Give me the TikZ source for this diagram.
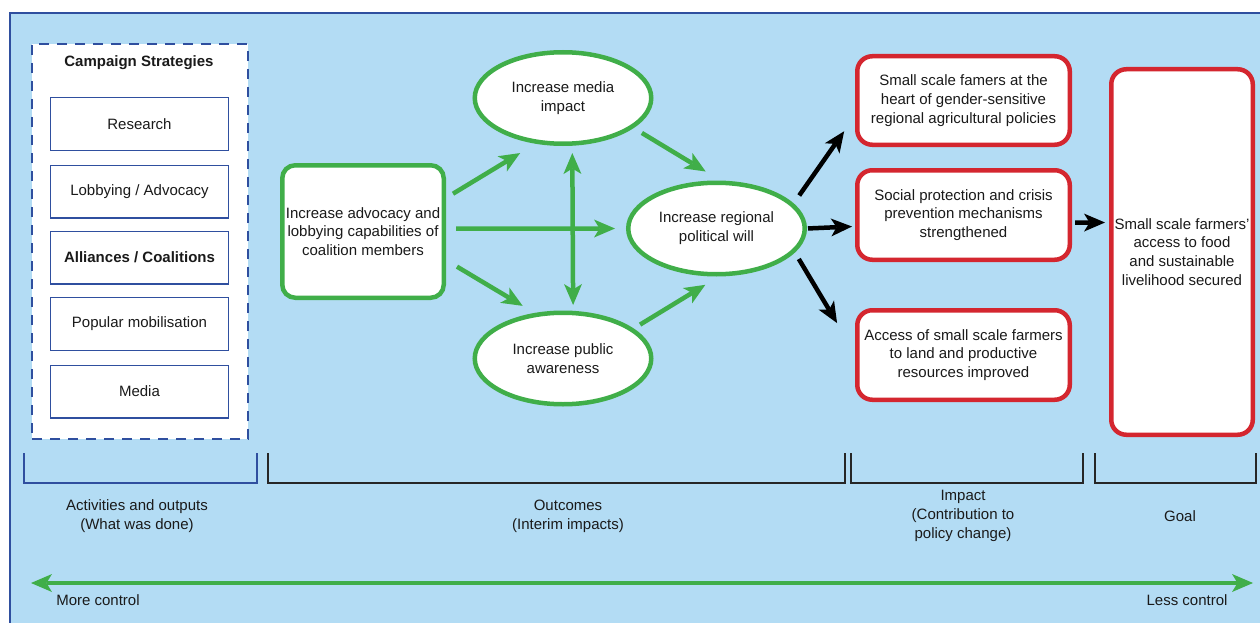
\documentclass[tikz,border=0pt]{standalone}
\usepackage{fontspec}
\setmainfont{Liberation Sans}
\usetikzlibrary{shapes.geometric,arrows.meta}
\definecolor{bgblue}{HTML}{B3DCF4}
\definecolor{frameblue}{HTML}{2F4F9F}
\definecolor{ggreen}{HTML}{40AE49}
\definecolor{rred}{HTML}{D4262F}
\definecolor{txt}{HTML}{1A1A1A}
\tikzset{
  stratbox/.style={draw=frameblue, line width=1.4pt, fill=white, minimum width=177.6pt, minimum height=52.6pt, inner sep=0pt, align=center},
  gbox/.style={draw=ggreen, line width=4.5pt, fill=white, rounded corners=13pt, minimum width=161.5pt, minimum height=132.5pt, inner sep=0pt, align=center},
  gell/.style={ellipse, draw=ggreen, line width=4.5pt, fill=white, minimum width=176.5pt, minimum height=91.5pt, inner sep=0pt, align=center},
  rbox/.style={draw=rred, line width=4.5pt, fill=white, rounded corners=15pt, minimum width=212.5pt, inner sep=0pt, align=center},
  ghead/.style={},
  garrow/.style={draw=ggreen, line width=4.5pt, -{Stealth[length=21pt,width=18pt,inset=5.5pt,line width=0pt]}},
  gdarrow/.style={draw=ggreen, line width=4.5pt, {Stealth[length=21pt,width=18pt,inset=5.5pt,line width=0pt]}-{Stealth[length=21pt,width=18pt,inset=5.5pt,line width=0pt]}},
  barrow/.style={draw=black, line width=4.5pt, -{Stealth[length=21pt,width=18pt,inset=5.5pt,line width=0pt]}},
  bracketline/.style={line width=1.2pt, draw=black!85},
  lbl/.style={align=center, inner sep=0pt}
}
\begin{document}
\begin{tikzpicture}[x=1pt,y=-1pt, font=\fontsize{15}{18.8}\selectfont, text=txt]
\useasboundingbox (0,0) rectangle (1260,623);
\fill[white] (0,0) rectangle (1260,623);
\begin{scope}
  \clip (0,0) rectangle (1260,623);
  \filldraw[fill=bgblue, draw=frameblue, line width=2.2pt] (10,13) rectangle (1280,650);
\end{scope}

% campaign strategies
\node[draw=frameblue, dash pattern=on 10pt off 8pt, line width=2.2pt, fill=white, minimum width=216pt, minimum height=395pt, inner sep=0pt] (stratframe) at (140,241.5) {};
\node[lbl, font=\fontsize{15}{18.8}\selectfont\bfseries] (strattitle) at (139,63) {Campaign Strategies};
\node[stratbox] (research) at (139.5,124) {Research};
\node[stratbox] (lobby) at (139.5,191.5) {Lobbying / Advocacy};
\node[stratbox, font=\fontsize{15}{18.8}\selectfont\bfseries] (alliance) at (139.5,257.5) {Alliances / Coalitions};
\node[stratbox] (popular) at (139.5,324) {Popular mobilisation};
\node[stratbox] (mediabox) at (139.5,391.5) {Media};

% outcomes
\node[gbox] (adv) at (363,231.5) {Increase advocacy and\\lobbying capabilities of\\coalition members};
\node[gell] (media) at (563,98) {Increase media\\impact};
\node[gell] (public) at (563,358.5) {Increase public\\awareness};
\node[gell] (will) at (716.5,228.5) {Increase regional\\political will};

% impacts
\node[rbox, minimum height=88.5pt] (imp1) at (963.5,100.5) {Small scale famers at the\\heart of gender-sensitive\\regional agricultural policies};
\node[rbox, minimum height=89.5pt] (imp2) at (963.5,215) {Social protection and crisis\\prevention mechanisms\\strengthened};
\node[rbox, minimum height=89.5pt] (imp3) at (963.5,355) {Access of small scale farmers\\to land and productive\\resources improved};
\node[rbox, minimum width=141.5pt, minimum height=365.5pt] (goal) at (1182,252) {Small scale farmers'\\access to food\\and sustainable\\livelihood secured};

% green connectors
\draw[garrow, shorten <=8.2pt, shorten >=18pt] (adv.22.4) -- (media.239);
\draw[garrow, shorten <=10pt, shorten >=11pt] (adv.2.4) -- (will.180);
\draw[garrow, shorten <=12.8pt, shorten >=13.8pt] (adv.-19.2) -- (public.122.7);
\draw[gdarrow, shorten <=7.3pt, shorten >=5.8pt] (media.281.8) -- (public.78.2);
\draw[garrow, shorten <=9.6pt, shorten >=17.5pt] (media.337) -- (will.85.9);
\draw[garrow, shorten <=7.5pt, shorten >=16pt] (public.23.8) -- (will.273.9);

% black connectors
\draw[barrow, shorten <=9.7pt, shorten >=18.9pt] (will.18.4) -- (imp1.188.4);
\draw[barrow, shorten <=1pt, shorten >=3pt] (will.0.3) -- (imp2.186.8);
\draw[barrow, shorten <=7.6pt, shorten >=35pt] (will.343) -- (imp3.179.1);
\draw[barrow, shorten <=3pt, shorten >=4pt] (imp2.-4.2) -- (goal.158.3);

% brackets
\draw[bracketline, draw=frameblue] (24,453) -- (24,483) -- (257,483) -- (257,453);
\draw[bracketline] (268,453) -- (268,483) -- (845,483) -- (845,453);
\draw[bracketline] (851,453) -- (851,483) -- (1083,483) -- (1083,453);
\draw[bracketline] (1095,453) -- (1095,483) -- (1256,483) -- (1256,453);

\node[lbl] (lblact) at (137,516.5) {Activities and outputs\\(What was done)};
\node[lbl] (lblout) at (568,516.5) {Outcomes\\(Interim impacts)};
\node[lbl] (lblimp) at (963,516) {Impact\\(Contribution to\\policy change)};
\node[lbl] (lblgoal) at (1180,516) {Goal};

% control arrow
\coordinate (morec) at (31,583);
\coordinate (lessc) at (1253,583);
\draw[gdarrow] (morec) -- (lessc);
\node[lbl] (lblmore) at (98,600) {More control};
\node[lbl] (lblless) at (1187,600) {Less control};
\end{tikzpicture}
\end{document}
